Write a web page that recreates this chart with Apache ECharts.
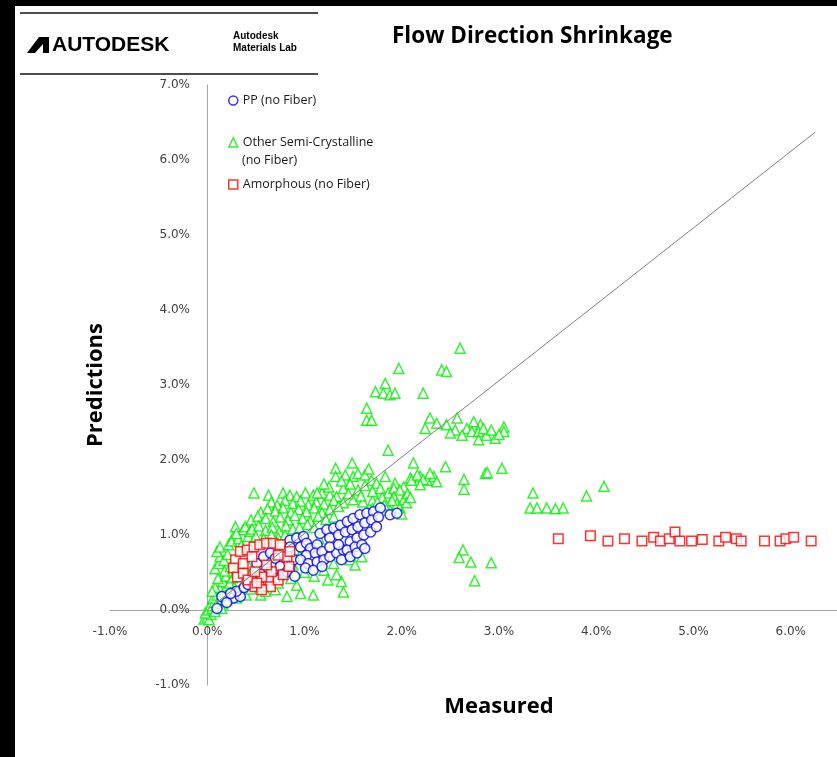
<!DOCTYPE html>
<html>
<head>
<meta charset="utf-8">
<script src="https://cdn.jsdelivr.net/npm/echarts@6/dist/echarts.min.js"></script>
<style>html,body{margin:0;padding:0;background:#fff;}#c{width:837px;height:757px;}</style>
</head>
<body>
<div id="c"></div>
<script>
// ---- data (percent units) ----
const seriesNames = ['PP (no Fiber)', 'Other Semi-Crystalline (no Fiber)', 'Amorphous (no Fiber)'];
const axisTicks = [-1, 0, 1, 2, 3, 4, 5, 6, 7];

const ppData = [
[0.15,0.18],[0.27,0.16],[0.34,0.18],[0.2,0.1],[0.1,0.02],[0.3,0.25],[0.38,0.3],[0.46,0.40],[0.42,0.34],[0.24,0.22],
[0.51,0.62],[0.58,0.71],[0.65,0.76],[0.70,0.69],[0.75,0.58],[0.77,0.47],[0.82,0.51],[0.85,0.58],[0.89,0.67],
[0.85,0.93],[0.92,0.96],[0.99,0.98],[0.85,0.84],[0.96,0.84],[1.02,0.89],[1.06,0.82],[1.13,0.87],[1.02,0.73],
[1.11,0.76],[1.18,0.78],[0.96,0.67],[1.04,0.62],[1.13,0.64],[1.20,0.67],[1.26,0.71],[1.33,0.76],[1.40,0.80],
[1.01,0.56],[1.09,0.53],[1.18,0.58],[1.16,1.02],[1.23,1.07],[1.30,1.09],[1.37,1.13],[1.44,1.18],[1.50,1.22],
[1.57,1.27],[1.64,1.29],[1.71,1.31],[1.78,1.36],[1.88,1.27],[1.95,1.29],[1.26,0.96],[1.35,1.00],[1.42,1.04],
[1.49,1.07],[1.55,1.11],[1.62,1.16],[1.69,1.20],[1.76,1.24],[1.47,0.91],[1.54,0.96],[1.61,1.00],[1.68,1.04],
[1.74,1.11],[1.26,0.84],[1.35,0.87],[1.44,0.80],[1.52,0.84],[1.59,0.87],[1.38,0.67],[1.47,0.71],[1.54,0.76],
[1.62,0.82],[0.62,0.55],[0.55,0.48],[0.7,0.42],[0.9,0.45]
];

const otherData = [
// near origin
[-0.03,-0.12],[0.0,-0.1],[0.02,-0.13],[0.04,-0.06],[-0.02,-0.04],[0.01,0.0],[0.05,0.02],[0.08,-0.02],[0.03,0.06],
[0.07,0.1],[0.1,0.06],[0.12,0.12],[0.06,0.16],[0.1,0.2],[0.14,0.18],[0.16,0.08],[0.18,0.24],[0.13,0.28],[0.08,0.3],
[0.2,0.32],[0.16,0.38],[0.23,0.36],[0.11,0.42],[0.19,0.45],[0.26,0.43],[0.05,0.25],[0.15,0.02],[0.2,0.14],[0.24,0.22],[0.28,0.3],
// left column
[0.08,0.55],[0.12,0.62],[0.13,0.71],[0.1,0.78],[0.13,0.84],[0.22,0.87],[0.17,0.66],[0.21,0.74],[0.27,0.98],[0.29,1.11],
[0.37,1.07],[0.39,1.11],[0.25,0.92],[0.32,0.95],[0.35,0.86],[0.42,0.98],[0.18,0.52],[0.24,0.58],[0.44,1.05],[0.3,1.02],
// main upper cloud
[0.48,1.56],[0.63,1.53],[0.78,1.56],[0.85,1.53],[0.92,1.51],[1.01,1.56],[1.09,1.53],[1.18,1.56],[1.26,1.53],[1.33,1.51],
[0.66,1.44],[0.72,1.40],[0.8,1.46],[0.88,1.42],[0.96,1.45],[1.04,1.40],[1.12,1.44],[1.2,1.41],[1.3,1.46],[1.4,1.43],[1.5,1.47],[1.6,1.44],[1.7,1.46],
[0.55,1.30],[0.62,1.35],[0.7,1.32],[0.78,1.36],[0.86,1.30],[0.94,1.34],[1.02,1.31],[1.1,1.36],[1.18,1.30],[1.26,1.34],[1.35,1.38],
[0.45,1.20],[0.52,1.25],[0.6,1.22],[0.68,1.18],[0.75,1.24],[0.83,1.20],[0.9,1.26],[0.98,1.22],[1.06,1.18],[1.14,1.25],[1.22,1.21],[1.3,1.24],
[0.46,1.08],[0.53,1.12],[0.6,1.06],[0.67,1.1],[0.74,1.04],[0.81,1.12],[0.88,1.08],[0.95,1.1],[1.03,1.14],[1.1,1.1],
[0.5,0.98],[0.58,0.95],[0.66,1.0],[0.73,0.96],[0.8,1.0],
// upper right of cloud
[1.32,1.89],[1.49,1.96],[1.13,1.56],[1.25,1.64],[1.32,1.78],[1.42,1.80],[1.5,1.78],[1.55,1.82],[1.62,1.80],[1.69,1.73],
[1.74,1.69],[1.83,1.78],[1.93,1.69],[2.02,1.64],[2.09,1.76],[2.19,1.78],[2.26,1.73],[2.33,1.78],[2.36,1.71],[2.12,1.96],
[2.45,1.91],[2.1,1.73],[2.16,1.8],[2.22,1.74],[2.29,1.82],[2.19,1.67],[1.4,1.62],[1.47,1.68],[1.55,1.6],[1.62,1.66],
[1.7,1.58],[1.78,1.62],[1.86,1.56],[1.92,1.62],[1.45,1.55],[1.58,1.52],[1.8,1.5],[1.86,2.13],[1.38,1.72],[1.66,1.88],[1.2,1.68],
// right of blue band
[1.92,1.51],[1.98,1.60],[1.95,1.42],[1.88,1.33],[2.02,1.47],[2.06,1.55],[1.98,1.36],[2.05,1.43],[2.09,1.5],[1.82,1.4],
[1.75,1.44],[1.9,1.46],[1.7,1.35],[2.0,1.28],
// upper outliers
[2.60,3.49],[1.97,3.22],[2.41,3.20],[2.46,3.18],[1.83,3.02],[1.73,2.91],[1.81,2.89],[1.88,2.87],[1.93,2.89],[2.22,2.89],
[1.64,2.69],[1.64,2.53],[1.69,2.53],[2.29,2.56],[2.36,2.49],[2.24,2.42],[2.46,2.47],[2.57,2.56],[2.55,2.40],[2.67,2.42],
[2.74,2.51],[2.81,2.47],[2.72,2.38],[2.79,2.38],[2.87,2.33],[2.96,2.29],[2.79,2.27],[3.05,2.44],[3.05,2.38],[2.5,2.36],
[2.62,2.33],[2.84,2.42],[2.92,2.4],[3.0,2.34],
// right middle
[2.64,1.74],[2.64,1.61],[2.86,1.82],[2.88,1.83],[3.03,1.89],[3.35,1.56],[3.32,1.36],[3.39,1.36],[3.49,1.36],[3.58,1.35],
[3.66,1.36],[3.90,1.52],[4.08,1.65],
// lower outliers
[2.63,0.80],[2.59,0.70],[2.71,0.64],[2.92,0.63],[2.75,0.39],[0.82,0.18],[1.09,0.20],[1.40,0.24],[1.38,0.38],[0.92,0.33],
[0.96,0.22],[1.47,0.67],[1.59,0.71],[1.30,0.62],[1.33,0.47],[1.20,0.53],[0.70,0.27],[0.73,0.36],[1.1,0.45],[1.0,0.5],
[1.24,0.4],[0.86,0.42],[1.52,0.6],
// amid blue and red
[0.45,0.5],[0.55,0.55],[0.62,0.68],[0.68,0.62],[0.75,0.75],[0.9,0.8],[0.95,0.72],[0.35,0.3],[0.4,0.2],[0.3,0.16],
[0.45,0.28],[0.55,0.2],[0.6,0.25],[0.88,0.6],[1.05,0.85],[0.42,0.6],[0.3,0.5],[1.15,0.95]
];

const amorphousData = [
[0.29,0.67],[0.34,0.78],[0.41,0.80],[0.48,0.84],[0.54,0.87],[0.61,0.89],[0.68,0.89],[0.75,0.87],[0.27,0.56],[0.31,0.44],
[0.37,0.49],[0.42,0.40],[0.49,0.31],[0.56,0.31],[0.63,0.40],[0.56,0.44],[0.65,0.31],[0.73,0.40],[0.78,0.47],[0.84,0.58],
[0.82,0.71],[0.85,0.78],[0.37,0.62],[0.46,0.71],[0.66,0.51],[0.61,0.60],[0.73,0.73],[0.49,0.51],[0.56,0.27],[0.51,0.36],
[3.61,0.95],[3.94,0.99],[4.12,0.92],[4.29,0.95],[4.47,0.92],[4.59,0.97],[4.66,0.92],[4.75,0.95],[4.81,1.04],[4.86,0.92],
[4.98,0.92],[5.09,0.94],[5.26,0.92],[5.33,0.97],[5.44,0.95],[5.49,0.92],[5.73,0.92],[5.89,0.92],[5.95,0.95],[6.03,0.97],[6.21,0.92]
];

const refLine = [[0, 0], [6.25, 6.37]];

const tickFont = 'DejaVu Sans';
const mainFont = 'Open Sans';

const chart = echarts.init(document.getElementById('c'), null, {renderer: 'canvas'});
const fmt = v => v.toFixed(1) + '%';

chart.setOption({
  animation: false,
  backgroundColor: '#fff',
  title: {
    text: 'Flow Direction Shrinkage',
    left: 392, top: 25, padding: 0,
    textStyle: {fontFamily: mainFont, fontSize: 22.5, fontWeight: 'bold', color: '#000'}
  },
  legend: [
    {left: 228, top: 94, padding: 0, itemWidth: 9, itemHeight: 9, selectedMode: false,
     textStyle: {fontFamily: mainFont, fontSize: 12.5, color: '#1a1a1a'},
     data: [{name: seriesNames[0], icon: 'circle', itemStyle: {color: '#fff', borderColor: '#0000ff', borderWidth: 1.5}}]},
    {left: 228, top: 136, padding: 0, itemWidth: 9, itemHeight: 9, selectedMode: false,
     formatter: () => 'Other Semi-Crystalline',
     textStyle: {fontFamily: mainFont, fontSize: 12.5, color: '#1a1a1a'},
     data: [{name: seriesNames[1], icon: 'triangle', itemStyle: {color: '#fff', borderColor: '#00ee00', borderWidth: 1.5}}]},
    {left: 228, top: 178, padding: 0, itemWidth: 9, itemHeight: 9, selectedMode: false,
     textStyle: {fontFamily: mainFont, fontSize: 12.5, color: '#1a1a1a'},
     data: [{name: seriesNames[2], icon: 'rect', itemStyle: {color: '#fff', borderColor: '#ff0000', borderWidth: 1.5}}]}
  ],
  grid: {left: 110, right: -51, top: 85, bottom: 72, containLabel: false, outerBoundsMode: 'none'},
  xAxis: {
    type: 'value', min: axisTicks[0], max: axisTicks[axisTicks.length - 1], interval: 1,
    name: 'Measured', nameLocation: 'middle', nameGap: 11,
    nameTextStyle: {fontFamily: mainFont, fontSize: 22, fontWeight: 'bold', color: '#000'},
    axisLine: {onZero: true, lineStyle: {color: '#a6a6a6', width: 1}},
    axisTick: {show: false},
    splitLine: {show: false},
    axisLabel: {formatter: fmt, margin: -59, fontFamily: tickFont, fontSize: 12, color: '#404040', showMinLabel: true}
  },
  yAxis: {
    type: 'value', min: axisTicks[0], max: axisTicks[axisTicks.length - 1], interval: 1,
    name: 'Predictions', nameLocation: 'middle', nameGap: 3,
    nameTextStyle: {fontFamily: mainFont, fontSize: 22, fontWeight: 'bold', color: '#000'},
    axisLine: {onZero: true, lineStyle: {color: '#a6a6a6', width: 1}},
    axisTick: {show: false},
    splitLine: {show: false},
    axisLabel: {formatter: fmt, margin: -80, fontFamily: tickFont, fontSize: 12, color: '#404040'}
  },
  series: [
    {name: seriesNames[1], type: 'scatter', data: otherData, symbol: 'triangle', symbolSize: 10, z: 2,
     itemStyle: {color: '#fff', borderColor: '#00ee00', borderWidth: 1.5}},
    {name: seriesNames[0], type: 'scatter', data: ppData, symbol: 'circle', symbolSize: 10, z: 3,
     itemStyle: {color: '#fff', borderColor: '#0000ff', borderWidth: 1.5}},
    {name: seriesNames[2], type: 'scatter', data: amorphousData, symbol: 'rect', symbolSize: 9.5, z: 4,
     itemStyle: {color: '#fff', borderColor: '#ff0000', borderWidth: 1.5}},
    {name: 'ref', type: 'line', data: refLine, symbol: 'none', z: 5, silent: true,
     lineStyle: {color: '#808080', width: 1}}
  ],
  graphic: [
    {type: 'rect', shape: {x: 0, y: 0, width: 15, height: 757}, style: {fill: '#000'}, z: 100},
    {type: 'rect', shape: {x: 0, y: 0, width: 837, height: 6}, style: {fill: '#000'}, z: 100},
    {type: 'line', shape: {x1: 20, y1: 13, x2: 318, y2: 13}, style: {stroke: '#4d4d4d', lineWidth: 2}},
    {type: 'line', shape: {x1: 20, y1: 74, x2: 318, y2: 74}, style: {stroke: '#4d4d4d', lineWidth: 2}},
    {type: 'polygon', shape: {points: [[27, 53], [39, 37], [49, 37], [49, 53], [43, 53], [43, 44], [35, 53]]}, style: {fill: '#000'}},
    {type: 'text', x: 52, y: 45, style: {text: 'AUTODESK', font: 'bold 21px "Liberation Sans"', fill: '#000', verticalAlign: 'middle'}},
    {type: 'text', x: 233, y: 36, style: {text: 'Autodesk', font: 'bold 10px "Liberation Sans"', fill: '#000', verticalAlign: 'middle'}},
    {type: 'text', x: 233, y: 48, style: {text: 'Materials Lab', font: 'bold 10px "Liberation Sans"', fill: '#000', verticalAlign: 'middle'}},
    {type: 'text', x: 242, y: 160, style: {text: '(no Fiber)', font: '12.5px "Open Sans"', fill: '#1a1a1a', verticalAlign: 'middle'}}
  ]
});
</script>
</body>
</html>
